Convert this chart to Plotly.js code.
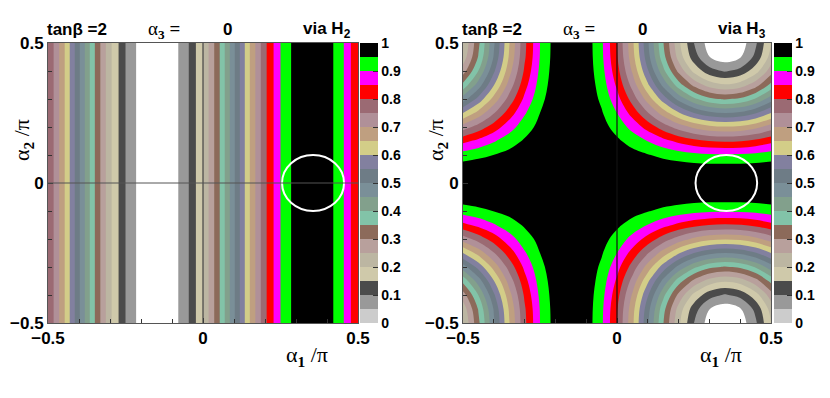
<!DOCTYPE html>
<html>
<head>
<meta charset="utf-8">
<script src="https://cdn.plot.ly/plotly-3.0.1.min.js"></script>
<style>
  html, body { margin: 0; padding: 0; background: #fff; }
  #chart { width: 830px; height: 398px; }
</style>
</head>
<body>
<div id="chart"></div>
<script>
// grid in units of pi
const alpha1 = [-0.5, -0.45, -0.4, -0.35, -0.3, -0.25, -0.2, -0.15, -0.1, -0.05, 0,
                0.05, 0.1, 0.15, 0.2, 0.25, 0.3, 0.35, 0.4, 0.45, 0.5];
const alpha2 = [-0.5, -0.45, -0.4, -0.35, -0.3, -0.25, -0.2, -0.15, -0.1, -0.05, 0,
                0.05, 0.1, 0.15, 0.2, 0.25, 0.3, 0.35, 0.4, 0.45, 0.5];

// via H2: only changes along alpha1 (vertical stripes)
const h2Level = [0.800, 0.662, 0.508, 0.353, 0.212, 0.100, 0.027, 0.000, 0.022, 0.091, 0.200,
                 0.338, 0.492, 0.647, 0.788, 0.900, 0.973, 1.000, 0.978, 0.909, 0.800];

// via H3: one row per alpha2 value
const h3Level = [
  [0.200,0.338,0.492,0.647,0.788,0.900,0.973,1.000,0.978,0.909,0.800,0.662,0.508,0.353,0.212,0.100,0.027,0.000,0.022,0.091,0.200],
  [0.220,0.354,0.504,0.656,0.793,0.902,0.974,1.000,0.979,0.911,0.805,0.670,0.520,0.369,0.231,0.122,0.051,0.024,0.046,0.113,0.220],
  [0.276,0.401,0.541,0.681,0.808,0.910,0.976,1.000,0.980,0.918,0.819,0.694,0.555,0.415,0.287,0.186,0.120,0.095,0.115,0.178,0.276],
  [0.365,0.474,0.597,0.720,0.832,0.921,0.979,1.000,0.983,0.928,0.841,0.732,0.609,0.486,0.374,0.286,0.228,0.206,0.224,0.278,0.365],
  [0.476,0.567,0.668,0.769,0.861,0.935,0.982,1.000,0.986,0.940,0.869,0.779,0.678,0.577,0.484,0.411,0.363,0.345,0.360,0.405,0.476],
  [0.600,0.669,0.746,0.824,0.894,0.950,0.987,1.000,0.989,0.955,0.900,0.831,0.754,0.677,0.606,0.550,0.514,0.500,0.511,0.546,0.600],
  [0.724,0.771,0.824,0.878,0.927,0.965,0.991,1.000,0.992,0.969,0.931,0.883,0.830,0.776,0.728,0.689,0.664,0.655,0.662,0.686,0.724],
  [0.835,0.864,0.895,0.927,0.956,0.979,0.994,1.000,0.995,0.981,0.959,0.930,0.899,0.867,0.838,0.815,0.799,0.794,0.798,0.813,0.835],
  [0.924,0.937,0.951,0.966,0.980,0.990,0.997,1.000,0.998,0.991,0.981,0.968,0.953,0.938,0.925,0.914,0.907,0.905,0.907,0.913,0.924],
  [0.980,0.984,0.988,0.991,0.995,0.998,0.999,1.000,0.999,0.998,0.995,0.992,0.988,0.984,0.981,0.978,0.976,0.976,0.976,0.978,0.980],
  [1,1,1,1,1,1,1,1,1,1,1,1,1,1,1,1,1,1,1,1,1],
  [0.980,0.984,0.988,0.991,0.995,0.998,0.999,1.000,0.999,0.998,0.995,0.992,0.988,0.984,0.981,0.978,0.976,0.976,0.976,0.978,0.980],
  [0.924,0.937,0.951,0.966,0.980,0.990,0.997,1.000,0.998,0.991,0.981,0.968,0.953,0.938,0.925,0.914,0.907,0.905,0.907,0.913,0.924],
  [0.835,0.864,0.895,0.927,0.956,0.979,0.994,1.000,0.995,0.981,0.959,0.930,0.899,0.867,0.838,0.815,0.799,0.794,0.798,0.813,0.835],
  [0.724,0.771,0.824,0.878,0.927,0.965,0.991,1.000,0.992,0.969,0.931,0.883,0.830,0.776,0.728,0.689,0.664,0.655,0.662,0.686,0.724],
  [0.600,0.669,0.746,0.824,0.894,0.950,0.987,1.000,0.989,0.955,0.900,0.831,0.754,0.677,0.606,0.550,0.514,0.500,0.511,0.546,0.600],
  [0.476,0.567,0.668,0.769,0.861,0.935,0.982,1.000,0.986,0.940,0.869,0.779,0.678,0.577,0.484,0.411,0.363,0.345,0.360,0.405,0.476],
  [0.365,0.474,0.597,0.720,0.832,0.921,0.979,1.000,0.983,0.928,0.841,0.732,0.609,0.486,0.374,0.286,0.228,0.206,0.224,0.278,0.365],
  [0.276,0.401,0.541,0.681,0.808,0.910,0.976,1.000,0.980,0.918,0.819,0.694,0.555,0.415,0.287,0.186,0.120,0.095,0.115,0.178,0.276],
  [0.220,0.354,0.504,0.656,0.793,0.902,0.974,1.000,0.979,0.911,0.805,0.670,0.520,0.369,0.231,0.122,0.051,0.024,0.046,0.113,0.220],
  [0.200,0.338,0.492,0.647,0.788,0.900,0.973,1.000,0.978,0.909,0.800,0.662,0.508,0.353,0.212,0.100,0.027,0.000,0.022,0.091,0.200]
];

// 20 bands of 0.05, bottom to top
const bandColors = ['#cccccc', '#999999', '#4b4b4b', '#cfc9aa', '#bcb6a2', '#b8a09c', '#8c6a5a',
                    '#82c3a8', '#82a08c', '#7a8f98', '#6e7c86', '#82809f', '#d3cd88', '#bf9f80',
                    '#b09098', '#9b6a73', '#ff0000', '#ff00ff', '#00ff00', '#000000'];

const circleX = 0.355, circleR = 0.1;

function stepScale(colors) {
    const s = [];
    colors.forEach((c, i) => { s.push([i / 20, c]); s.push([(i + 1) / 20, c]); });
    return s;
}
const plotScale = stepScale(['#ffffff'].concat(bandColors.slice(1))); // lowest band left white in the plot
const barScale = stepScale(bandColors);

const W = 830, H = 398;
const yDom = [(H - 323) / H, (H - 43) / H];
const sans = 'Liberation Sans, Arial, sans-serif';
const bold = { family: sans, size: 17, color: '#000', weight: 'bold' };

function panel(z, y, xa, ya, scale, withBar, cbx) {
    return {
        type: 'contour', x: alpha1, y: y, z: z, xaxis: xa, yaxis: ya,
        colorscale: scale, zauto: false, zmin: 0, zmax: 1,
        autocontour: false,
        contours: { start: 0.05, end: 0.95, size: 0.05, coloring: 'fill', showlines: false },
        line: { width: 0, smoothing: 1 },
        opacity: withBar ? 0 : 1,
        showscale: withBar,
        hoverinfo: 'skip',
        colorbar: {
            x: cbx, xanchor: 'left', xpad: 0, ypad: 0,
            y: (yDom[0] + yDom[1]) / 2, yanchor: 'middle',
            len: 280, lenmode: 'pixels', thickness: 18,
            tick0: 0, dtick: 0.1, ticks: 'inside', ticklen: 5, tickcolor: '#333',
            tickfont: { family: sans, size: 14, color: '#000', weight: 'bold' },
            outlinewidth: 0
        }
    };
}

const h2Rows = [h2Level, h2Level];
const h2Y = [alpha2[0], alpha2[alpha2.length - 1]];

const data = [
    panel(h2Rows, h2Y, 'x', 'y', plotScale, false),
    panel(h2Rows, h2Y, 'x', 'y', barScale, true, 360 / W),
    panel(h3Level, alpha2, 'x2', 'y2', plotScale, false),
    panel(h3Level, alpha2, 'x2', 'y2', barScale, true, 774 / W)
];

function axis(dom, anchor) {
    return {
        domain: dom, anchor: anchor, range: [-0.5, 0.5], autorange: false,
        tick0: 0, dtick: 0.5, ticks: 'inside', ticklen: 5, tickcolor: '#333',
        minor: { dtick: 0.1, tick0: 0, ticks: 'inside', ticklen: 4, tickcolor: '#333' },
        showline: true, mirror: true, linecolor: '#555', linewidth: 1,
        showgrid: false, zeroline: false, layer: 'above traces',
        tickfont: bold
    };
}

// header line above each panel, centres measured from the panel's left edge
function header(x0, sub) {
    const f = { family: sans, size: 17, color: '#000', weight: 'bold' };
    const g = { family: 'Liberation Serif, serif', size: 19, color: '#000' };
    const yy = 1 - 30 / H;
    const a = (dx, text, font) => ({ xref: 'paper', yref: 'paper', x: (x0 + dx) / W, y: yy, text: text,
        xanchor: 'center', yanchor: 'middle', showarrow: false, font: font });
    return [
        a(29, 'tan<b>β</b> =2', f),
        a(116, 'α<sub><b>3</b></sub> <b>=</b>', g),
        a(179, '0', f),
        a(279, 'via H<sub>' + sub + '</sub>', f)
    ];
}

function titles(cx, ty) {
    const f = { family: 'Liberation Serif, Times New Roman, serif', size: 22, color: '#000' };
    return [
        { xref: 'paper', yref: 'paper', x: cx / W, y: 1 - 356 / H, text: 'α<sub><b>1</b></sub> /π',
          showarrow: false, xanchor: 'center', yanchor: 'middle', font: f },
        { xref: 'paper', yref: 'paper', x: ty / W, y: 1 - 140 / H, text: 'α<sub><b>2</b></sub> /π',
          showarrow: false, xanchor: 'center', yanchor: 'middle', textangle: -90, font: f }
    ];
}

function marks(xr, yr, zc, withH) {
    const m = [
        { type: 'line', xref: xr, yref: yr, x0: 0, x1: 0, y0: -0.5, y1: 0.5, line: { color: zc, width: 1.2 }, layer: 'above' },
        { type: 'circle', xref: xr, yref: yr, x0: circleX - circleR, x1: circleX + circleR,
          y0: -circleR, y1: circleR, line: { color: '#ffffff', width: 2 }, layer: 'above' }
    ];
    if (withH) m.push({ type: 'line', xref: xr, yref: yr, x0: -0.5, x1: 0.5, y0: 0, y1: 0,
                        line: { color: '#555', width: 1 }, layer: 'above' });
    return m;
}

const layout = {
    width: W, height: H,
    margin: { l: 0, r: 0, t: 0, b: 0, autoexpand: false },
    paper_bgcolor: '#fff', plot_bgcolor: '#fff',
    showlegend: false,
    xaxis: axis([48 / W, 358 / W], 'y'),
    yaxis: axis(yDom, 'x'),
    xaxis2: axis([463 / W, 771 / W], 'y2'),
    yaxis2: axis(yDom, 'x2'),
    annotations: header(48, '2').concat(header(463, '3'), titles(307, 23), titles(721, 437)),
    shapes: marks('x', 'y', '#444', true).concat(marks('x2', 'y2', '#111', false))
};

Plotly.newPlot('chart', data, layout, { displayModeBar: false, staticPlot: true });
</script>
</body>
</html>
